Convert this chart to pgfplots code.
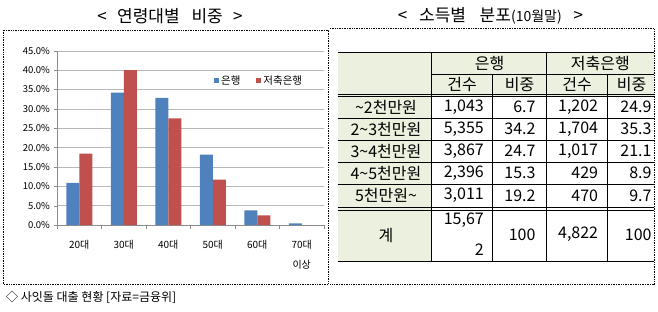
\documentclass[border=0pt]{standalone}
\usepackage{pgfplots}
\pgfplotsset{compat=1.18}
\usepackage{fontspec}
\setmainfont{Noto Sans CJK KR}
\definecolor{cblue}{RGB}{79,129,189}
\definecolor{cred}{RGB}{192,80,77}
\definecolor{tgreen}{RGB}{235,241,222}
\begin{document}
\begin{tikzpicture}
\useasboundingbox (0,0) rectangle (658pt,-311pt);
\begin{axis}[
  at={(57pt,-225pt)}, anchor=south west, scale only axis,
  width=267pt, height=174.3pt,
  ybar=0pt, bar width=13pt,
  xmin=-0.5, xmax=5.5, ymin=0, ymax=45,
  axis x line*=bottom, axis y line*=left,
  axis line style={draw=black!45},
  ytick={0,5,...,45},
  yticklabels={0.0\%,5.0\%,10.0\%,15.0\%,20.0\%,25.0\%,30.0\%,35.0\%,40.0\%,45.0\%},
  ymajorgrids, grid style={draw=black!28},
  tick align=outside, major tick length=3.5pt, tick style={draw=black!45},
  xtick={-0.5,0.5,...,5.5}, xticklabels={},
  extra x ticks={0,1,2,3,4,5},
  extra x tick labels={20대,30대,40대,50대,60대,{70대\\이상}},
  extra x tick style={tick style={draw=none}, grid=none},
  x tick label style={align=center, font=\fontsize{10}{20}\selectfont, yshift=-8pt},
  y tick label style={font=\fontsize{9.5}{10}\selectfont},
  legend style={draw=none, fill=none, at={(0.757,0.828)}, anchor=center,
    font=\fontsize{10.5}{12}\selectfont,
    /tikz/every even column/.append style={column sep=14pt}},
  legend columns=2,
  legend image code/.code={\draw[#1,draw=none] (0pt,-2.5pt) rectangle (5pt,2.5pt);},
]
\addplot[fill=cblue, draw=none] coordinates {(0,10.9) (1,34.2) (2,32.8) (3,18.2) (4,3.8) (5,0.4)};
\addplot[fill=cred, draw=none] coordinates {(0,18.4) (1,40.0) (2,27.5) (3,11.7) (4,2.5) (5,0.0)};
\legend{은행,저축은행}
\end{axis}
\begin{scope}[x=1pt,y=-1pt]
% titles
\node at (170,16) {\fontsize{17}{20}\selectfont <\hspace{0.6em}연령대별\hspace{0.7em}비중\hspace{0.6em}>};
\node at (490.5,16) {\fontsize{17}{20}\selectfont <\hspace{0.7em}소득별\hspace{0.8em}분포{\fontsize{14}{16}\selectfont(10월말)}\hspace{0.7em}>};
% dotted frames
\draw[densely dotted, line width=0.7pt] (3,30) rectangle (328,284);
\draw[densely dotted, line width=0.7pt] (330,28.5) -- (654,28.5) -- (654,284.3) -- (330,284.3);
% table fills
\fill[tgreen] (338,52.3) rectangle (654,96.5);
\fill[tgreen] (338,96.5) rectangle (431.7,261);
% table lines
\draw[line width=0.7pt] (338,52.3) -- (654,52.3);
\draw[line width=0.7pt] (431.7,74.3) -- (654,74.3);
\draw[line width=0.7pt] (338,94) -- (654,94);
\draw[line width=0.7pt] (338,96.5) -- (654,96.5);
\foreach \yy in {118,140,162,184.5} \draw[line width=0.7pt] (338,\yy) -- (654,\yy);
\draw[line width=0.7pt] (338,207) -- (654,207);
\draw[line width=0.7pt] (338,210.5) -- (654,210.5);
\draw[line width=0.7pt] (338,261) -- (654,261);
\draw[line width=0.7pt] (431.7,52.3) -- (431.7,261);
\draw[line width=0.7pt] (492.7,74.3) -- (492.7,261);
\draw[line width=0.7pt] (546.7,52.3) -- (546.7,261);
\draw[line width=0.7pt] (607.7,74.3) -- (607.7,261);
% table text
\begin{scope}[every node/.style={font=\fontsize{16}{18}\selectfont, inner sep=0pt}]
\node at (489.7,63.3) {은행};
\node at (600.3,63.3) {저축은행};
\node at (462.2,85) {건수};
\node at (519.7,85) {비중};
\node at (577.2,85) {건수};
\node at (631.5,85) {비중};
\node at (386,107) {\textasciitilde 2천만원};
\node at (386,129) {2\textasciitilde 3천만원};
\node at (386,151) {3\textasciitilde 4천만원};
\node at (386,173.2) {4\textasciitilde 5천만원};
\node at (386,195.7) {5천만원\textasciitilde};
\node at (386,235.5) {계};
\node[anchor=east] at (484,107) {1,043};
\node[anchor=east] at (535.7,107) {6.7};
\node[anchor=east] at (598.3,107) {1,202};
\node[anchor=east] at (651.7,107) {24.9};
\node[anchor=east] at (484,129) {5,355};
\node[anchor=east] at (535.7,129) {34.2};
\node[anchor=east] at (598.3,129) {1,704};
\node[anchor=east] at (651.7,129) {35.3};
\node[anchor=east] at (484,151) {3,867};
\node[anchor=east] at (535.7,151) {24.7};
\node[anchor=east] at (598.3,151) {1,017};
\node[anchor=east] at (651.7,151) {21.1};
\node[anchor=east] at (484,173.2) {2,396};
\node[anchor=east] at (535.7,173.2) {15.3};
\node[anchor=east] at (598.3,173.2) {429};
\node[anchor=east] at (651.7,173.2) {8.9};
\node[anchor=east] at (484,195.7) {3,011};
\node[anchor=east] at (535.7,195.7) {19.2};
\node[anchor=east] at (598.3,195.7) {470};
\node[anchor=east] at (651.7,195.7) {9.7};
\node[anchor=east] at (484,220) {15,67};
\node[anchor=east] at (484,249.3) {2};
\node[anchor=east] at (535.7,234.5) {100};
\node[anchor=east] at (598.3,234.5) {4,822};
\node[anchor=east] at (651.7,234.5) {100};
\end{scope}
% footer
\node[anchor=west, inner sep=0pt] at (6,297) {\fontsize{12}{14}\selectfont ◇ 사잇돌 대출 현황 [자료=금융위]};
\end{scope}
\end{tikzpicture}
\end{document}
